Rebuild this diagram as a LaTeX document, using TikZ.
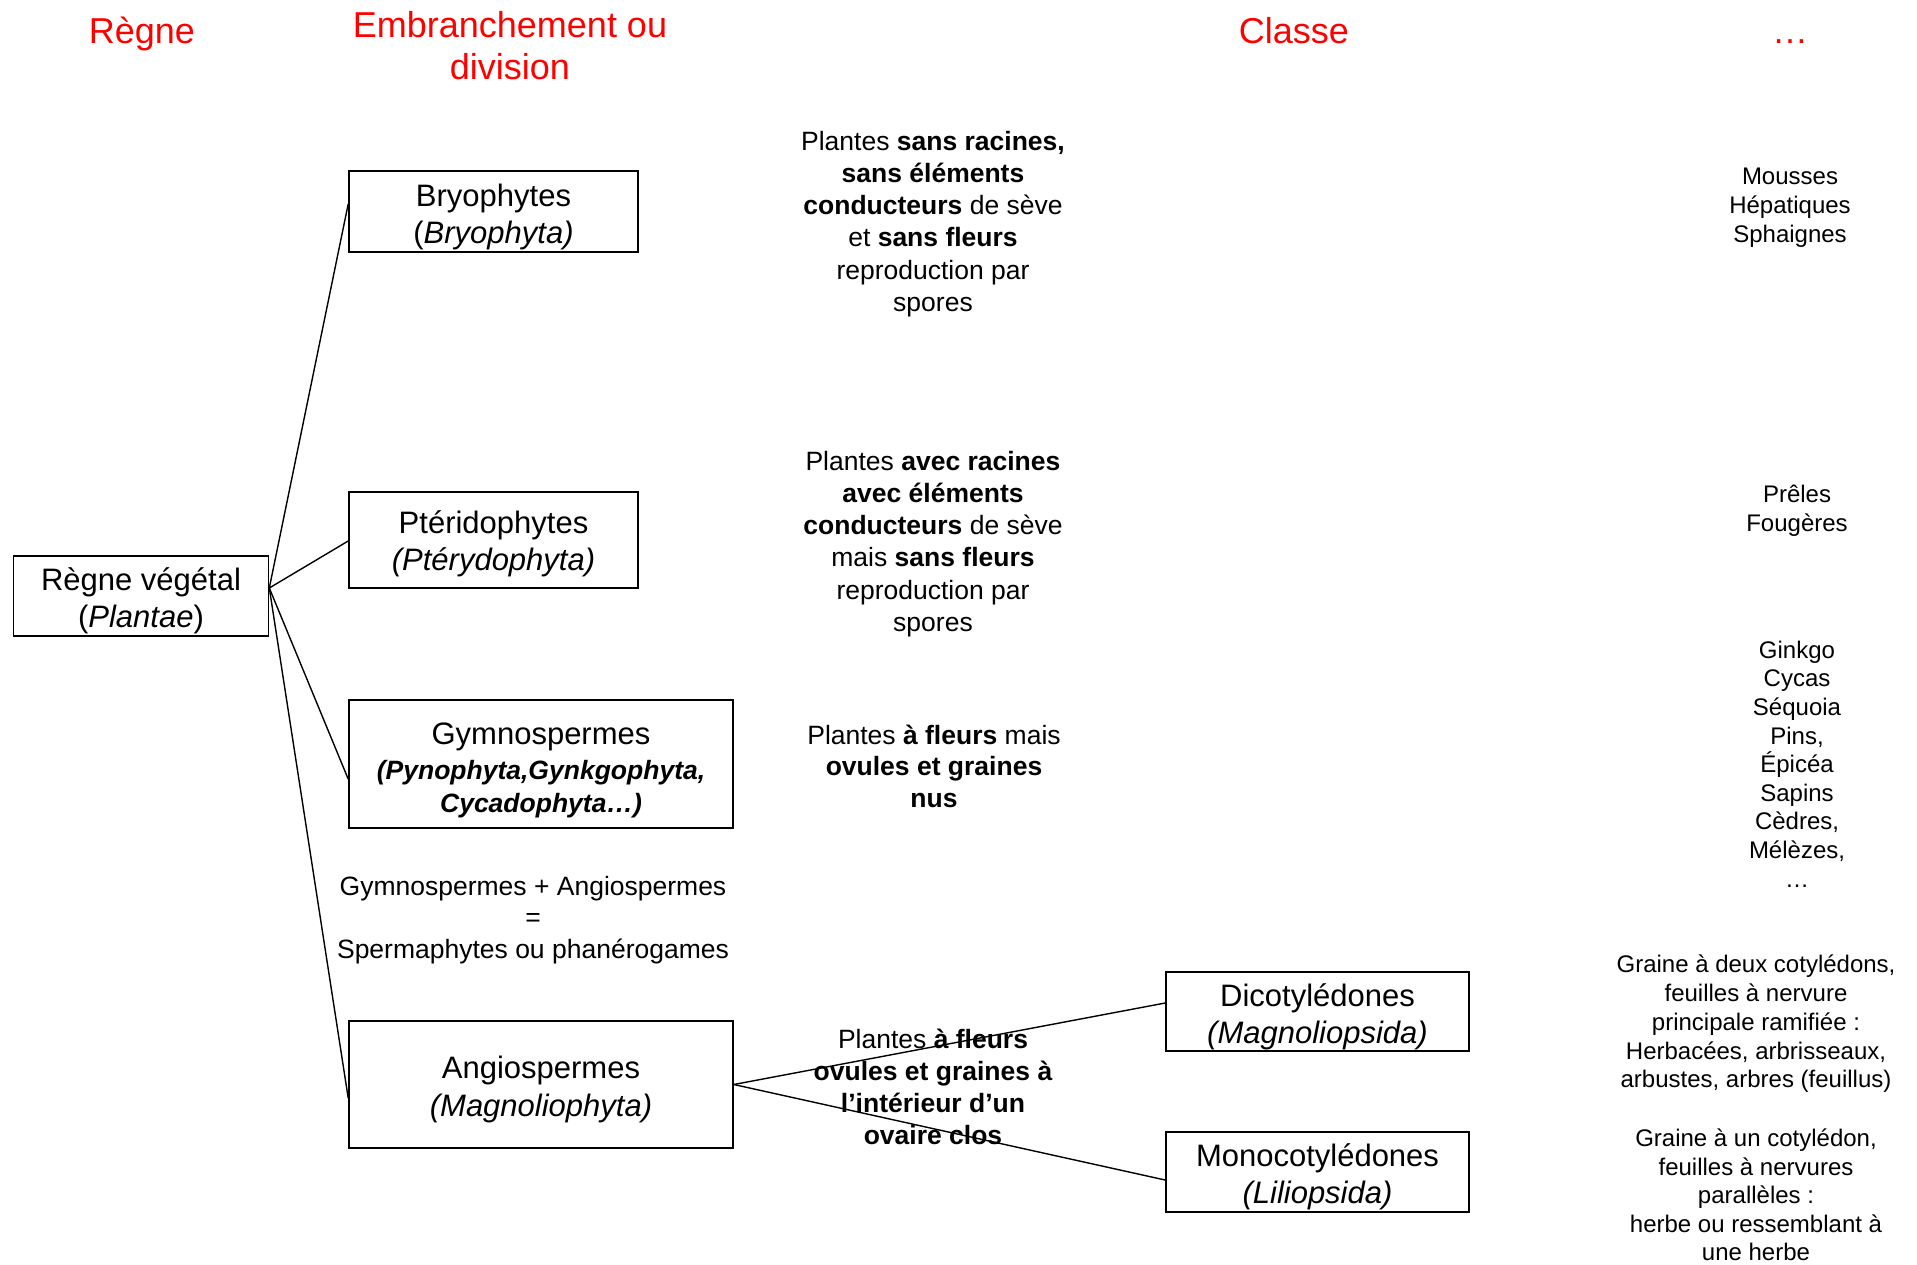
\documentclass[tikz,border=0pt]{standalone}
\usepackage{fontspec}
\setmainfont{Liberation Sans}
\usetikzlibrary{calc}
\begin{document}
\begin{tikzpicture}[x=1pt,y=-1pt,
  title/.style={text=red,font=\fontsize{36}{42}\selectfont,align=center,inner sep=0},
  boxnode/.style={draw,line width=1.6pt,inner sep=0},
  boxtext/.style={align=center,inner sep=0,font=\fontsize{31}{37}\selectfont},
  desc/.style={align=center,inner sep=0,font=\fontsize{26.5}{32.2}\selectfont},
  small/.style={align=center,inner sep=0,font=\fontsize{24}{28.8}\selectfont},
  conn/.style={line width=1.4pt}]
\useasboundingbox (0,0) rectangle (1917,1264);
\fill[white] (0,0) rectangle (1917,1264);

% titles
\node[title,anchor=base] (tregne) at (142,43) {Règne};
\node[title] (tembr) at (510,46) {Embranchement ou\\division};
\node[title,anchor=base] (tclasse) at (1294,43) {Classe};
\node[title,anchor=base] (tdots) at (1790,43) {…};

% boxes
\node[boxnode,minimum width=255,minimum height=80] (regne) at (141,596) {};
\node[boxtext] (regnet) at ([yshift=-5pt]regne.center) {Règne végétal\\(\textit{Plantae})};
\node[boxnode,minimum width=289,minimum height=81] (bryo) at (493.5,211.5) {};
\node[boxtext] (bryot) at ([yshift=-5pt]bryo.center) {Bryophytes\\(\textit{Bryophyta)}};
\node[boxnode,minimum width=289,minimum height=96] (pter) at (493.5,540) {};
\node[boxtext] (ptert) at ([yshift=-4pt]pter.center) {Ptéridophytes\\\textit{(Ptérydophyta)}};
\node[boxnode,minimum width=384,minimum height=128] (gymno) at (541,764) {};
\node[boxtext,font=\fontsize{26.5}{33}\selectfont] (gymnot) at ([yshift=-6pt]gymno.center) {{\fontsize{31}{37}\selectfont Gymnospermes}\\[2pt]\textbf{\textit{(Pynophyta,Gynkgophyta,}}\\\textbf{\textit{Cycadophyta…)}}};
\node[boxnode,minimum width=384,minimum height=127] (angio) at (541,1084.5) {};
\node[boxtext,font=\fontsize{31}{38.5}\selectfont] (angiot) at ([yshift=-5pt]angio.center) {Angiospermes\\\textit{(Magnoliophyta)}};
\node[boxnode,minimum width=303,minimum height=79] (dico) at (1317.5,1011.5) {};
\node[boxtext] (dicot) at ([yshift=-5pt]dico.center) {Dicotylédones\\\textit{(Magnoliopsida)}};
\node[boxnode,minimum width=303,minimum height=80] (mono) at (1317.5,1172) {};
\node[boxtext] (monot) at ([yshift=-5pt]mono.center) {Monocotylédones\\\textit{(Liliopsida)}};

% descriptions
\node[desc] (d1) at (933,224) {Plantes \textbf{sans racines,}\\\textbf{sans éléments}\\\textbf{conducteurs} de sève\\et \textbf{sans fleurs}\\reproduction par\\spores};
\node[desc] (d2) at (933,544) {Plantes \textbf{avec racines}\\\textbf{avec éléments}\\\textbf{conducteurs} de sève\\mais \textbf{sans fleurs}\\reproduction par\\spores};
\node[desc,font=\fontsize{26.5}{31.5}\selectfont] (d3) at (934,766) {Plantes \textbf{à fleurs} mais\\\textbf{ovules et graines}\\\textbf{nus}};
\node[desc] (d4) at (933,1087) {Plantes \textbf{à fleurs}\\\textbf{ovules et graines à}\\\textbf{l’intérieur d’un}\\\textbf{ovaire clos}};
\node[desc,font=\fontsize{26.5}{31.5}\selectfont] (sperma) at (533,920) {Gymnospermes + Angiospermes\\=\\Spermaphytes ou phanérogames};

% right column
\node[small] (e1) at (1790,208) {Mousses\\Hépatiques\\Sphaignes};
\node[small] (e2) at (1797,511) {Prêles\\Fougères};
\node[small,font=\fontsize{24}{28.6}\selectfont] (e3) at (1797,764) {Ginkgo\\Cycas\\Séquoia\\Pins,\\Épicéa\\Sapins\\Cèdres,\\Mélèzes,\\…};
\node[small] (e4) at (1756,1024) {Graine à deux cotylédons,\\feuilles à nervure\\principale ramifiée :\\Herbacées, arbrisseaux,\\arbustes, arbres (feuillus)};
\node[small,font=\fontsize{24}{28.4}\selectfont] (e5) at (1756,1195) {Graine à un cotylédon,\\feuilles à nervures\\parallèles :\\herbe ou ressemblant à\\une herbe};

% connectors
\coordinate (r0) at ([yshift=8pt]regne.east);
\draw[conn] (r0) -- ([yshift=7.5pt]bryo.west);
\draw[conn] (r0) -- ([yshift=-1pt]pter.west);
\draw[conn] (r0) -- ([yshift=-15pt]gymno.west);
\draw[conn] (r0) -- ([yshift=-13.5pt]angio.west);
\draw[conn] (angio.east) -- ([yshift=8.5pt]dico.west);
\draw[conn] (angio.east) -- ([yshift=-8pt]mono.west);
\end{tikzpicture}
\end{document}
